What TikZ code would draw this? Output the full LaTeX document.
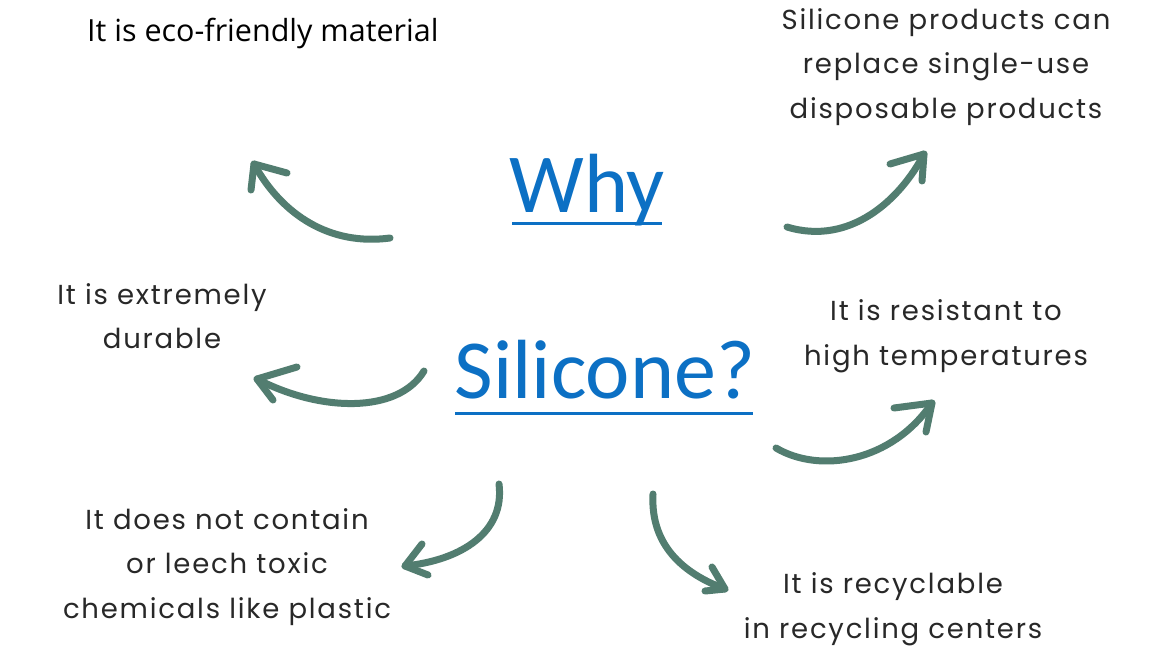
\documentclass[tikz,border=0pt]{standalone}
\usepackage{fontspec}
\setmainfont{Poppins}[LetterSpace=6.5]
\newfontfamily\calib{Carlito}
\newfontfamily\hdfont{Open Sans}
\definecolor{arrowgreen}{RGB}{82,125,112}
\definecolor{titleblue}{RGB}{12,112,196}
\definecolor{txtgray}{RGB}{40,40,40}
\begin{document}
\begin{tikzpicture}[x=1pt,y=-1pt,
  lbl/.style={align=center,text=txtgray,font=\fontsize{27.5}{44.5}\selectfont,inner sep=0pt},
  title/.style={text=titleblue,font=\calib\fontsize{84}{84}\selectfont,inner sep=0pt},
  uline/.style={draw=titleblue,line width=3pt},
  shaft/.style={draw=arrowgreen,line width=7pt,line cap=round},
  barb/.style={draw=arrowgreen,line width=7pt,line cap=round,line join=round}]
\useasboundingbox[fill=white] (0,0) rectangle (1169,658);
% texts
\node[anchor=west,inner sep=0pt,text=black,font=\hdfont\fontsize{30.5}{34}\selectfont] (eco) at (87,33) {It is eco-friendly material};
\node[lbl] (disp) at (946,67) {Silicone products can\\replace single-use\\disposable products};
\node[lbl] (dur) at (162,316) {It is extremely\\durable};
\node[lbl] (temp) at (946,336) {It is resistant to\\high temperatures};
\node[lbl] (toxic) at (227,567) {It does not contain\\or leech toxic\\chemicals like plastic};
\node[lbl] (recy) at (893,609) {It is recyclable\\in recycling centers};
% title
\node[title,anchor=base] (why) at (587,212) {Why};
\node[title,anchor=base] (sil) at (605,398) {Silicone?};
\draw[uline] (512,223) -- (662,223);
\draw[uline] (455,413) -- (753,413);
% arrow 1 (top-left)
\coordinate (a1s) at (390,238); \coordinate (a1t) at (254,164);
\draw[shaft] (a1s) .. controls (330,246) and (282,215) .. (a1t);
\draw[barb] (287,173) -- (a1t) -- (251,190);
% arrow 2 (top-right)
\coordinate (a2s) at (787,227); \coordinate (a2t) at (924,154);
\draw[shaft] (a2s) .. controls (850,246) and (900,200) .. (a2t);
\draw[barb] (890,164) -- (a2t) -- (922,181);
% arrow 3 (middle-left)
\coordinate (a3s) at (424,371); \coordinate (a3t) at (257,379);
\draw[shaft] (a3s) .. controls (398,414) and (320,412) .. (a3t);
\draw[barb] (297,367) -- (a3t) -- (273,400);
% arrow 4 (middle-right)
\coordinate (a4s) at (776,448); \coordinate (a4t) at (932,403);
\draw[shaft] (a4s) .. controls (820,474) and (892,462) .. (a4t);
\draw[barb] (894,408) -- (a4t) -- (926,432);
% arrow 5 (bottom-left)
\coordinate (a5s) at (499,484); \coordinate (a5t) at (405,566);
\draw[shaft] (a5s) .. controls (505,532) and (462,560) .. (a5t);
\draw[barb] (422,544) -- (a5t) -- (428,575);
% arrow 6 (bottom-right)
\coordinate (a6s) at (653,494); \coordinate (a6t) at (725,589);
\draw[shaft] (a6s) .. controls (650,550) and (690,576) .. (a6t);
\draw[barb] (712,567) -- (a6t) -- (705,591);
\end{tikzpicture}
\end{document}
